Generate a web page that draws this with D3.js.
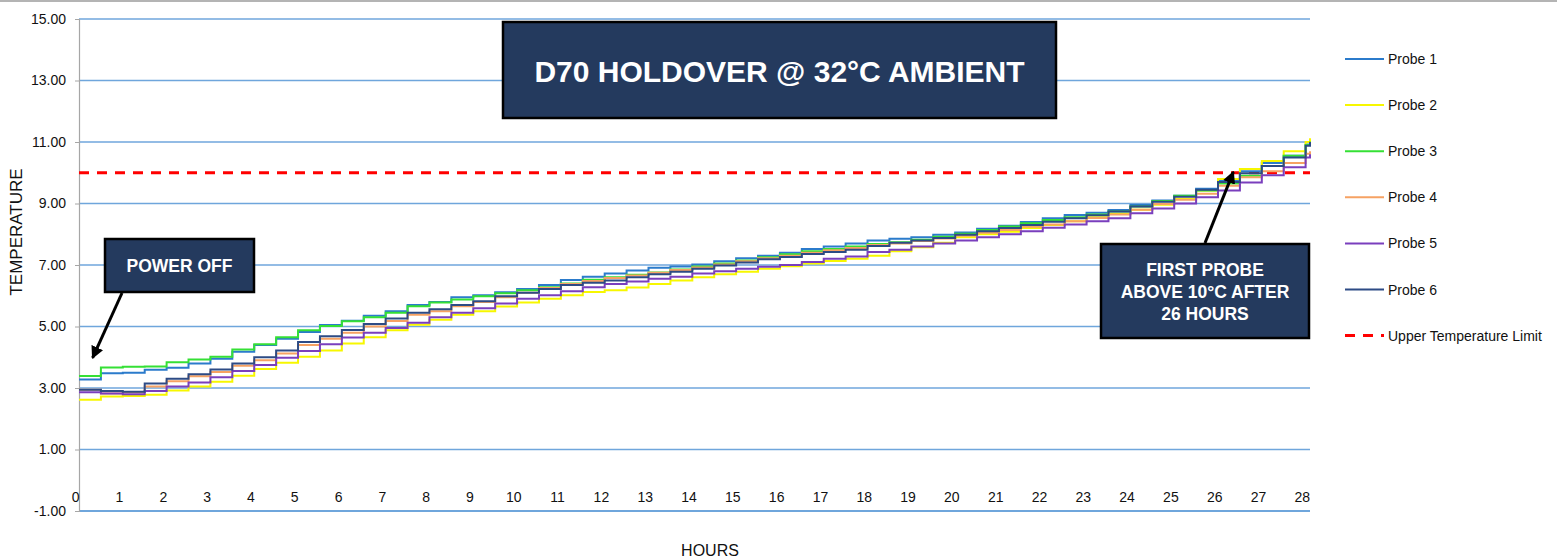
<!DOCTYPE html>
<html><head><meta charset="utf-8">
<script src="https://cdn.jsdelivr.net/npm/d3@7"></script>
<style>
html,body{margin:0;padding:0;background:#fff;}
svg{display:block;font-family:"Liberation Sans",Arial,sans-serif;}
</style></head>
<body><svg id="c" width="1557" height="558"></svg>
<script>
const hours = [0,0.5,1,1.5,2,2.5,3,3.5,4,4.5,5,5.5,6,6.5,7,7.5,8,8.5,9,9.5,10,10.5,11,11.5,12,12.5,13,13.5,14,14.5,15,15.5,16,16.5,17,17.5,18,18.5,19,19.5,20,20.5,21,21.5,22,22.5,23,23.5,24,24.5,25,25.5,26,26.5,27,27.5,28,28.1];
const probe1 = [3.28,3.48,3.50,3.59,3.66,3.80,3.95,4.18,4.40,4.60, 4.82,5.05,5.19,5.35,5.50,5.70,5.80,5.95,6.02,6.11, 6.22,6.35,6.51,6.62,6.72,6.82,6.91,6.95,7.02,7.12, 7.22,7.30,7.40,7.52,7.60,7.70,7.80,7.85,7.90,7.98, 8.06,8.18,8.28,8.40,8.52,8.63,8.70,8.79,8.95,9.10, 9.25,9.48,9.74,10.05,10.32,10.55,10.92,11.05];
const probe2 = [2.62,2.72,2.74,2.78,2.92,3.05,3.20,3.40,3.62,3.82, 4.02,4.22,4.45,4.65,4.88,5.06,5.22,5.38,5.50,5.65, 5.78,5.90,6.02,6.12,6.18,6.27,6.38,6.50,6.60,6.70, 6.78,6.88,6.96,7.05,7.13,7.20,7.30,7.45,7.58,7.72, 7.90,8.00,8.08,8.20,8.30,8.42,8.55,8.66,8.80,8.96, 9.15,9.42,9.80,10.12,10.38,10.70,11.00,11.12];
const probe3 = [3.39,3.67,3.69,3.70,3.84,3.93,4.02,4.25,4.42,4.65, 4.88,5.02,5.17,5.30,5.45,5.66,5.78,5.88,5.98,6.08, 6.18,6.28,6.40,6.52,6.60,6.68,6.76,6.85,6.95,7.05, 7.15,7.25,7.35,7.45,7.52,7.60,7.68,7.74,7.82,7.92, 8.02,8.14,8.25,8.36,8.46,8.55,8.64,8.74,8.90,9.08, 9.25,9.42,9.65,9.90,10.22,10.55,10.90,11.02];
const probe4 = [2.94,2.82,2.86,3.05,3.22,3.38,3.52,3.72,3.90,4.12, 4.40,4.60,4.80,5.00,5.18,5.38,5.50,5.66,5.80,5.95, 6.10,6.25,6.38,6.48,6.58,6.66,6.75,6.84,6.92,7.02, 7.12,7.22,7.30,7.40,7.48,7.55,7.65,7.70,7.78,7.86, 7.95,8.05,8.14,8.24,8.32,8.42,8.53,8.64,8.80,8.98, 9.12,9.32,9.58,9.85,10.05,10.32,10.62,10.70];
const probe5 = [2.86,2.82,2.80,2.90,3.05,3.18,3.35,3.55,3.75,3.98, 4.20,4.42,4.64,4.80,4.95,5.12,5.30,5.45,5.59,5.75, 5.90,6.02,6.15,6.28,6.38,6.46,6.55,6.62,6.72,6.80, 6.88,6.94,7.00,7.10,7.20,7.28,7.42,7.50,7.60,7.70, 7.80,7.90,8.00,8.10,8.21,8.32,8.42,8.52,8.68,8.84, 9.00,9.20,9.42,9.68,9.92,10.18,10.50,10.60];
const probe6 = [2.94,2.90,2.88,3.15,3.30,3.45,3.60,3.80,4.00,4.22, 4.50,4.68,4.89,5.08,5.26,5.45,5.56,5.70,5.82,5.98, 6.10,6.22,6.35,6.42,6.50,6.60,6.70,6.78,6.88,6.98, 7.08,7.19,7.26,7.36,7.42,7.50,7.62,7.72,7.80,7.88, 7.98,8.10,8.20,8.30,8.41,8.52,8.62,8.74,8.90,9.06, 9.22,9.45,9.70,9.98,10.22,10.50,10.88,11.00];
const seriesNames = ["Probe 1","Probe 2","Probe 3","Probe 4","Probe 5","Probe 6"];
const seriesColors = ["#2b7bcb","#f7f700","#35e035","#f6a263","#7a3fbd","#2d4b85"];
const upperLimit = 10;
const limitName = "Upper Temperature Limit";
const yTicks = [-1,1,3,5,7,9,11,13,15];
const xTicks = [0,1,2,3,4,5,6,7,8,9,10,11,12,13,14,15,16,17,18,19,20,21,22,23,24,25,26,27,28];
const titleText = "D70 HOLDOVER @ 32°C AMBIENT";
const note1 = ["POWER OFF"];
const note1Tip = [0.31, 3.98];
const note2 = ["FIRST PROBE","ABOVE 10°C AFTER","26 HOURS"];
const note2Tip = [26.35, 10.03];
const yTitle = "TEMPERATURE", xTitle = "HOURS";

const svg = d3.select("#c");
const x = d3.scaleLinear().domain([0, 28.1]).range([79, 1310]);
const y = d3.scaleLinear().domain([-1, 15]).range([511, 19]);

// top border
svg.append("line").attr("x1",0).attr("x2",1557).attr("y1",1).attr("y2",1).attr("stroke","#b4b4b4").attr("stroke-width",2);

// gridlines
svg.append("g").selectAll("line").data(yTicks).join("line")
  .attr("x1", x(0)).attr("x2", x(28.1))
  .attr("y1", d=>y(d)).attr("y2", d=>y(d))
  .attr("stroke", "#6fa6dc").attr("stroke-width", d=> d===-1?2:1.4);

// y axis
const yAxis = d3.axisLeft(y).tickValues(yTicks).tickSize(4).tickPadding(9)
  .tickFormat(d => d3.format(".2f")(d).replace("\u2212","-"));
const ya = svg.append("g").attr("transform",`translate(${x(0)},0)`).call(yAxis);
ya.select(".domain").attr("stroke","#a6a6a6").attr("stroke-width",1.2);
ya.selectAll(".tick line").attr("stroke","#a6a6a6");
ya.selectAll("text").attr("font-size",14).attr("fill","#111").attr("font-family","Liberation Sans, Arial, sans-serif");

// x labels
const xa = svg.append("g").attr("transform",`translate(0,${y(0)})`)
  .call(d3.axisBottom(x).tickValues(xTicks).tickSize(0).tickPadding(0).tickFormat(d3.format("d")));
xa.select(".domain").remove();
xa.selectAll("text").attr("font-size",14).attr("fill","#111")
  .attr("font-family","Liberation Sans, Arial, sans-serif")
  .attr("dx",-3.8).attr("dy",0).attr("y",17).attr("dominant-baseline","central");

// limit line
svg.append("line").attr("x1",x(0)).attr("x2",x(28.1)).attr("y1",y(upperLimit)).attr("y2",y(upperLimit))
  .attr("stroke","#ff0000").attr("stroke-width",3).attr("stroke-dasharray","10,8");

// series
const allSeries = [probe1,probe2,probe3,probe4,probe5,probe6];
const line = d3.line().x((d,i)=>x(hours[i])).y(d=>y(d)).curve(d3.curveStepAfter);
svg.append("g").selectAll("path").data(allSeries).join("path")
  .attr("d", d=>line(d)).attr("fill","none")
  .attr("stroke",(d,i)=>seriesColors[i]).attr("stroke-width",2);

// axis titles
svg.append("text").attr("transform","translate(16,232) rotate(-90)").attr("text-anchor","middle")
  .attr("dominant-baseline","central").attr("font-size",17).attr("fill","#111").text(yTitle);
svg.append("text").attr("x",710).attr("y",550).attr("text-anchor","middle")
  .attr("dominant-baseline","central").attr("font-size",16).attr("fill","#111").text(xTitle);

// legend
const lg = svg.append("g");
const rows = seriesNames.map((n,i)=>({n, c:seriesColors[i], dash:null}))
  .concat([{n:limitName, c:"#ff0000", dash:"10,8"}]);
rows.forEach((r,i)=>{
  const yy = 59 + i*46.1;
  lg.append("line").attr("x1",1345).attr("x2",1384).attr("y1",yy).attr("y2",yy)
    .attr("stroke",r.c).attr("stroke-width",r.dash?3:2).attr("stroke-dasharray",r.dash);
  lg.append("text").attr("x",1388).attr("y",yy).attr("dominant-baseline","central")
    .attr("font-size",14).attr("fill","#111").text(r.n);
});

// arrow marker
svg.append("defs").append("marker").attr("id","ah").attr("viewBox","0 0 10 10")
  .attr("refX",9).attr("refY",5).attr("markerWidth",4.2).attr("markerHeight",4.2)
  .attr("orient","auto").append("path").attr("d","M0,0L10,5L0,10z").attr("fill","#000");

function box(x0,y0,w,h,lines,fs,lh,cy){
  svg.append("rect").attr("x",x0).attr("y",y0).attr("width",w).attr("height",h)
    .attr("fill","#243a5e").attr("stroke","#000").attr("stroke-width",2.5);
  lines.forEach((t,i)=>{
    svg.append("text").attr("x",x0+w/2).attr("y",cy + (i-(lines.length-1)/2)*lh)
      .attr("text-anchor","middle").attr("dominant-baseline","central")
      .attr("font-size",fs).attr("font-weight","bold").attr("fill","#fff").text(t);
  });
}
// title
box(503,22,553,96,[titleText],30,0,71);
// notes
box(105,239,149,53,note1,17.5,0,266);
box(1101,244,208,94,note2,17.5,21.7,292);

// arrows
svg.append("line").attr("x1",122).attr("y1",293).attr("x2",x(note1Tip[0])).attr("y2",y(note1Tip[1]))
  .attr("stroke","#000").attr("stroke-width",3).attr("marker-end","url(#ah)");
svg.append("line").attr("x1",1205).attr("y1",243).attr("x2",x(note2Tip[0])).attr("y2",y(note2Tip[1]))
  .attr("stroke","#000").attr("stroke-width",3).attr("marker-end","url(#ah)");
</script></body></html>
